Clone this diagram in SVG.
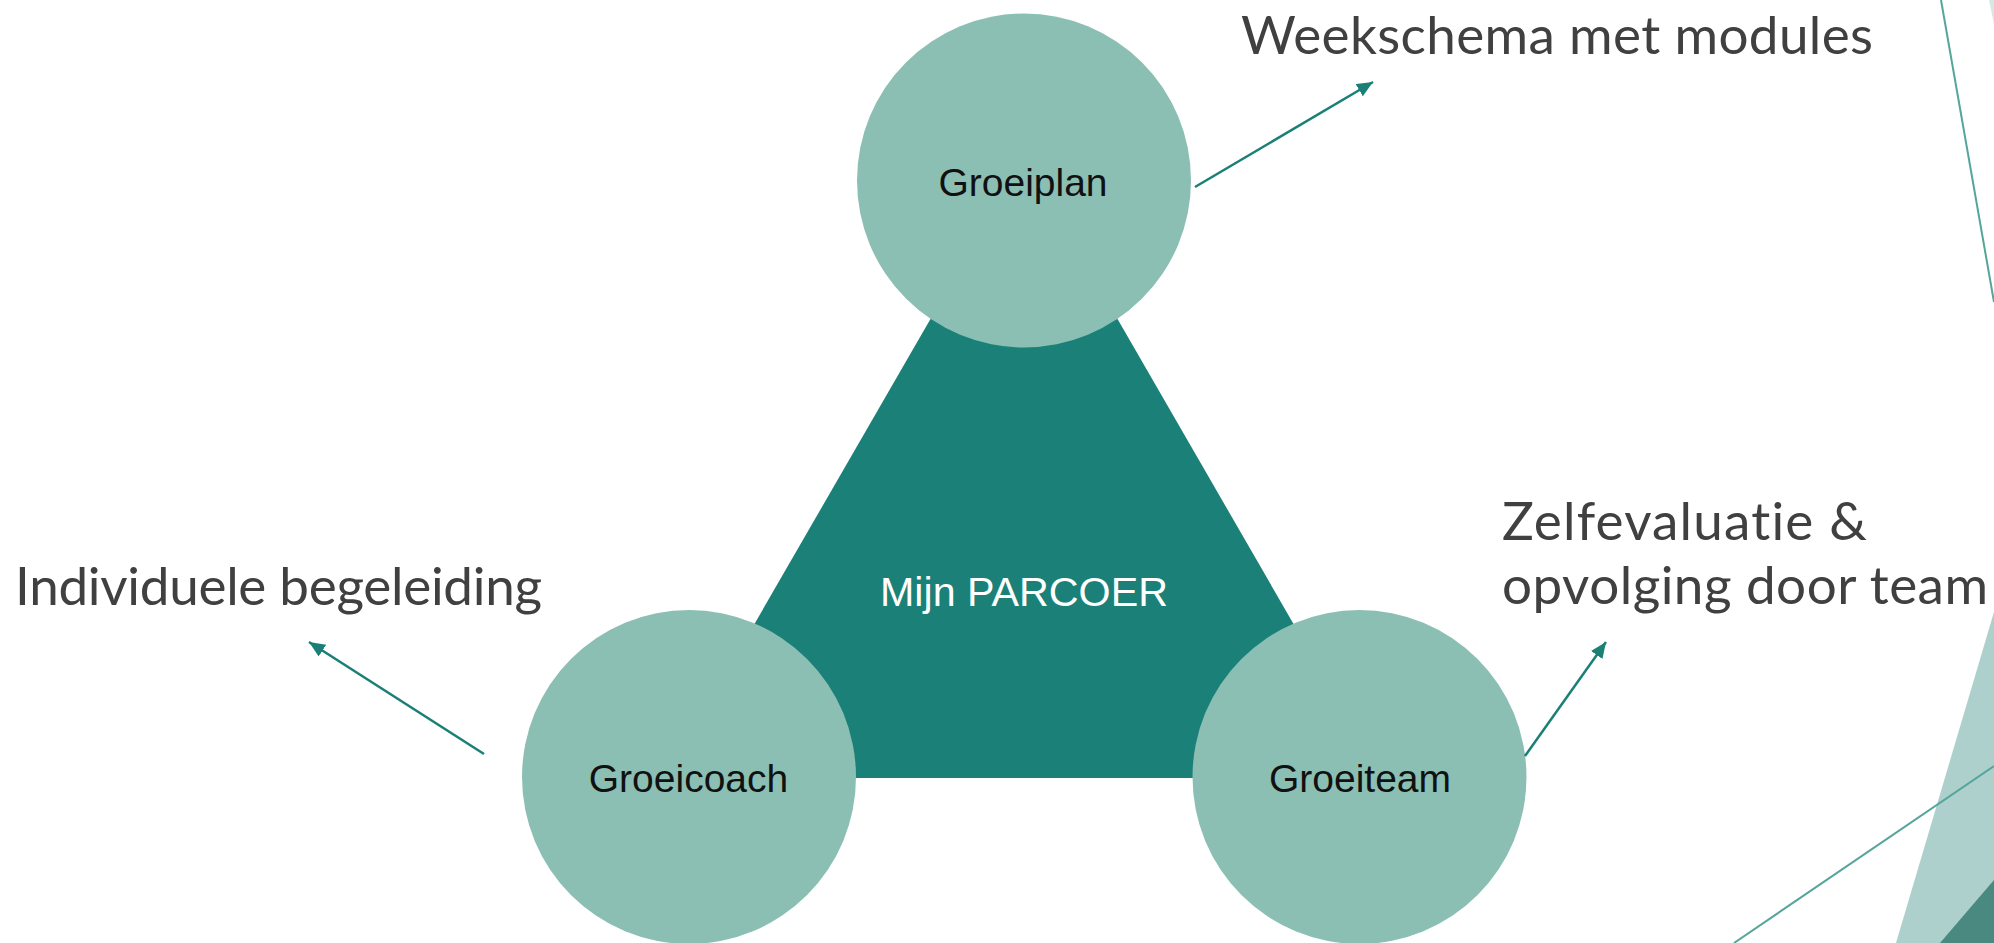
<svg xmlns="http://www.w3.org/2000/svg" width="1994" height="943" viewBox="0 0 1994 943">
  <style>
    .circle { fill: #8BBFB4; }
    .tri { fill: #1B8077; }
    .ntext { font-family: "Liberation Sans", Arial, sans-serif; font-size: 39px; fill: #111111; text-anchor: middle; }
    .ctext { font-family: "Liberation Sans", Arial, sans-serif; font-size: 41px; fill: #FFFFFF; text-anchor: middle; }
    .label { font-family: Lato, "Open Sans", sans-serif; font-size: 53px; fill: #404040; font-variant-ligatures: none; font-feature-settings: "liga" 0, "dlig" 0; }
    .arrow { stroke: #1A8075; stroke-width: 2.5; fill: none; marker-end: url(#ah); }
    .deco { stroke: #55A59C; stroke-width: 2; fill: none; }
  </style>
  <defs>
    <marker id="ah" markerUnits="userSpaceOnUse" markerWidth="18" markerHeight="16" refX="16" refY="7" orient="auto">
      <path d="M0,0 L16,7 L0,14 Z" fill="#1A8075"/>
    </marker>
  </defs>
  <rect width="1994" height="943" fill="#FFFFFF"/>

  <!-- decoration -->
  <g id="decoration">
    <polygon points="1994,612 1896,943 1994,943" fill="#ADD0CC"/>
    <polygon points="1994,880 1940,943 1994,943" fill="#4A8980"/>
    <polygon points="1989,0 1994,0 1994,24" fill="#D6E8E5"/>
    <line class="deco" x1="1941" y1="0" x2="1994" y2="302"/>
    <line class="deco" x1="1734" y1="943" x2="1994" y2="766"/>
  </g>

  <g id="center">
    <polygon class="tri" points="1024,157 665.5,778 1382.5,778"/>
    <text class="ctext" x="1024" y="606" textLength="288" lengthAdjust="spacingAndGlyphs">Mijn PARCOER</text>
  </g>

  <g id="groeiplan">
    <circle class="circle" cx="1024" cy="180.5" r="167"/>
    <text class="ntext" x="1023" y="196">Groeiplan</text>
  </g>
  <g id="groeicoach">
    <circle class="circle" cx="689" cy="777" r="167"/>
    <text class="ntext" x="688.5" y="792">Groeicoach</text>
  </g>
  <g id="groeiteam">
    <circle class="circle" cx="1359.5" cy="777" r="167"/>
    <text class="ntext" x="1360" y="792">Groeiteam</text>
  </g>

  <g id="connectors">
    <line class="arrow" x1="1195" y1="187" x2="1373" y2="82"/>
    <line class="arrow" x1="484" y1="754" x2="309" y2="642"/>
    <line class="arrow" x1="1525" y1="756" x2="1606" y2="642"/>
  </g>

  <g id="label-weekschema">
    <text class="label" x="1241" y="54" textLength="632" lengthAdjust="spacing">Weekschema met modules</text>
  </g>
  <g id="label-zelfevaluatie">
    <text class="label" x="1502" y="540" textLength="365" lengthAdjust="spacing">Zelfevaluatie &amp;</text>
    <text class="label" x="1502" y="604" textLength="486" lengthAdjust="spacing">opvolging door team</text>
  </g>
  <g id="label-individuele">
    <text class="label" x="15" y="605" textLength="527" lengthAdjust="spacing">Individuele begeleiding</text>
  </g>
</svg>
